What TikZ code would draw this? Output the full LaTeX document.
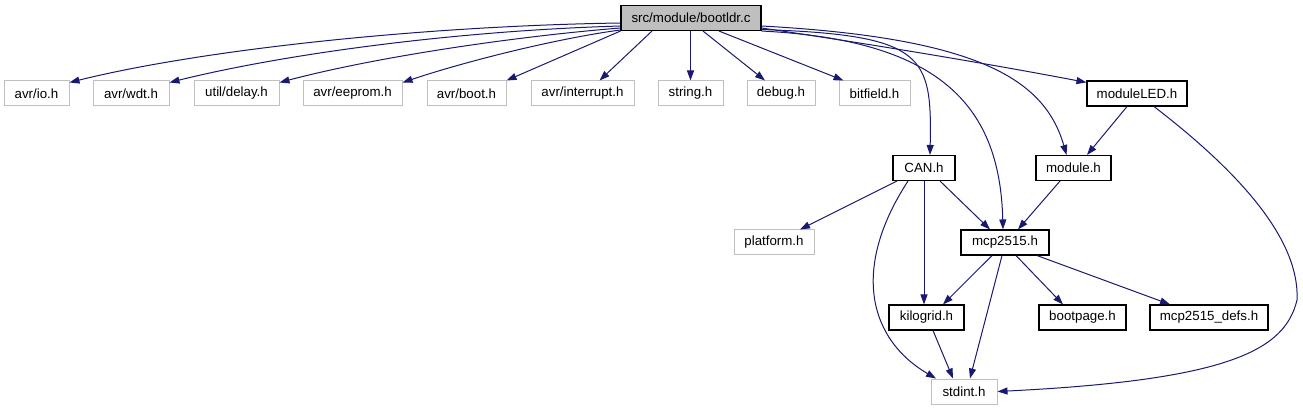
\documentclass[tikz,border=0pt]{standalone}
\usepackage{fontspec}
\setmainfont{Liberation Sans}
\usepackage{xcolor}
\usepackage{tikz}
\usetikzlibrary{arrows.meta, positioning}
\definecolor{edgeblue}{HTML}{191970}
\definecolor{grey75}{HTML}{BFBFBF}

\begin{document}
\begin{tikzpicture}[x=1pt, y=-1pt, font=\fontsize{13.3}{16}\selectfont,
		box/.style={draw, rectangle, inner sep=0pt, minimum height=25pt},
		gbox/.style={box, draw=grey75, line width=1pt},
		bbox/.style={box, draw=black, line width=1.1pt},
		dep/.style={draw=edgeblue, line width=1pt, -{Triangle[length=10pt, width=7pt]}}]
				\useasboundingbox (0,0) rectangle (1303,411);
				% Nodes, then the include edges:
				\node[bbox, fill=grey75, minimum width=140pt](N1) at (691, 18){src/module/bootldr.c};
				\node[gbox, minimum width=65pt](N2) at (36.5, 93.5){avr/io.h};
				\node[gbox, minimum width=76pt](N3) at (131, 93.5){avr/wdt.h};
				\node[gbox, minimum width=85pt](N4) at (236.5, 93.5){util/delay.h};
				\node[gbox, minimum width=99pt](N5) at (352.5, 93.5){avr/eeprom.h};
				\node[gbox, minimum width=79pt](N6) at (466.5, 93.5){avr/boot.h};
				\node[gbox, minimum width=103pt](N7) at (582.5, 93.5){avr/interrupt.h};
				\node[gbox, minimum width=65pt](N8) at (690.5, 93.5){string.h};
				\node[gbox, minimum width=68pt](N9) at (781, 93.5){debug.h};
				\node[gbox, minimum width=71pt](N10) at (874.5, 93.5){bitfield.h};
				\node[bbox, minimum width=100pt](N11) at (1137, 93.5){moduleLED.h};
				\node[bbox, minimum width=62pt](N12) at (924, 168){CAN.h};
				\node[bbox, minimum width=75pt](N13) at (1073.5, 168){module.h};
				\node[gbox, minimum width=80pt](N14) at (774, 242.5){platform.h};
				\node[bbox, minimum width=88pt](N15) at (1005, 242.5){mcp2515.h};
				\node[bbox, minimum width=75pt](N16) at (926.5, 317.5){kilogrid.h};
				\node[bbox, minimum width=87pt](N17) at (1082.5, 317.5){bootpage.h};
				\node[bbox, minimum width=118pt](N18) at (1209, 317.5){mcp2515\_defs.h};
				\node[gbox, minimum width=66pt](N19) at (964, 391.5){stdint.h};
				\draw[dep] ([yshift=-5pt]N1.west) .. controls (420, 26) and (200, 50) .. ([yshift=-2pt]N2.north east);
				\draw[dep] ([yshift=-8pt]N1.west) .. controls (450, 31) and (280, 55) .. ([yshift=-2pt]N3.north east);
				\draw[dep] ([yshift=-10pt]N1.west) .. controls (520, 36) and (380, 56) .. ([yshift=-2pt]N4.north east);
				\draw[dep] ([yshift=-12pt]N1.west) .. controls (560, 38) and (470, 60) .. ([yshift=-2pt]N5.north east);
				\draw[dep] (N1.south west) -- (N6.north east);
				\draw[dep] ([xshift=-39pt]N1.south) -- ([xshift=17pt]N7.north);
				\draw[dep] (N1.south -| N8.north) -- (N8.north);
				\draw[dep] ([xshift=12pt]N1.south) -- ([xshift=-16pt]N9.north);
				\draw[dep] ([xshift=28pt]N1.south) -- ([xshift=-31pt]N10.north);
				\draw[dep] ([yshift=-10pt]N1.east) .. controls (870, 44) and (990, 64) .. ([yshift=-2pt]N11.north west);
				\draw[dep] ([yshift=-8pt]N1.east) .. controls (980, 38) and (1045, 80) .. ([xshift=-7pt]N13.north);
				\draw[dep] ([yshift=-11.5pt]N1.east) .. controls (925, 35) and (932, 55) .. ([xshift=6pt]N12.north);
				\draw[dep] (N1.south east) .. controls (945, 40) and (1000, 110) .. ([xshift=-2pt]N15.north);
				\draw[dep] ([xshift=-10pt]N11.south) -- ([xshift=13.5pt]N13.north);
				\draw[dep] ([xshift=17pt]N11.south) .. controls (1230, 165) and (1300, 235) .. (1297, 300) .. controls (1285, 350) and (1230, 380) .. (N19.east);
				\draw[dep] ([xshift=-27pt]N12.south) -- ([xshift=26pt]N14.north);
				\draw[dep] ([xshift=-16pt]N12.south) .. controls (850, 270) and (870, 340) .. ([xshift=-28pt]N19.north);
				\draw[dep] (N12.south) -- (N12.south |- N16.north);
				\draw[dep] ([xshift=16pt]N12.south) -- ([xshift=-15pt]N15.north);
				\draw[dep] ([xshift=-13.5pt]N13.south) -- ([xshift=13pt]N15.north);
				\draw[dep] ([xshift=-13pt]N15.south) -- ([xshift=16.5pt]N16.north);
				\draw[dep] ([xshift=-3pt]N15.south) -- ([xshift=6pt]N19.north);
				\draw[dep] ([xshift=11pt]N15.south) -- ([xshift=-19.5pt]N17.north);
				\draw[dep] ([xshift=32pt]N15.south) -- ([xshift=-39pt]N18.north);
				\draw[dep] ([xshift=6.5pt]N16.south) -- ([xshift=-11pt]N19.north);
			\end{tikzpicture}
\end{document}
